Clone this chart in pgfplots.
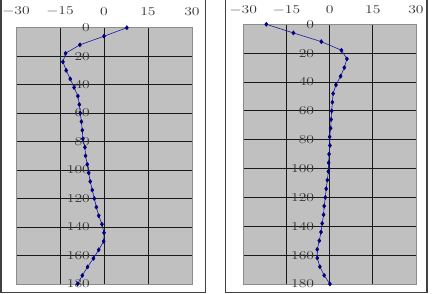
\documentclass[border=0pt]{standalone}
\usepackage{pgfplots}
\pgfplotsset{compat=1.18}
\definecolor{plotgray}{HTML}{C0C0C0}
\definecolor{navyline}{HTML}{1A1A99}
\definecolor{navymark}{HTML}{000080}
\pgfplotstableread{
x y
7.8 0
0 6
-8.2 12
-13.1 18
-14 24
-12.9 30
-11.5 36
-10.2 42
-8.9 48
-8.4 54
-8.1 60
-7.7 66
-7.4 72
-7.2 78
-6.5 84
-6.3 90
-5.7 96
-5.2 102
-4.7 108
-4.0 114
-3.3 120
-2.6 126
-1.8 132
-0.7 138
0 144
-0.1 150
-1.8 156
-3.6 162
-5.6 168
-7.4 174
-9.0 180
}\leftdata
\pgfplotstableread{
x y
-22 0
-12.6 6
-2.9 12
4.1 18
6.0 24
5.1 30
3.8 36
2.2 42
1.2 48
0.95 54
0.7 60
0.5 66
0.35 72
0 78
0.1 84
-0.2 90
-0.35 96
-0.45 102
-0.8 108
-1.2 114
-1.5 120
-1.9 126
-2.1 132
-2.6 138
-3.0 144
-3.6 150
-4.3 156
-4.3 162
-3.4 168
-1.9 174
0.1 180
}\rightdata
\pgfplotsset{
  panel/.style={
    scale only axis,
    anchor=south west,
    xmin=-30, xmax=30, ymin=0, ymax=180,
    y dir=reverse,
    xtick={-30,-15,0,15,30},
    ytick={0,20,...,180},
    xticklabel pos=upper,
    grid=major,
    major grid style={black!90, line width=0.75pt},
    axis background/.style={fill=plotgray},
    axis line style={black!45, line width=0.8pt},
    tick style={draw=none},
    xticklabel={\scalebox{1.3}[1]{\pgfmathprintnumber{\tick}}},
    yticklabel={\scalebox{1.3}[1]{\pgfmathprintnumber{\tick}}},
    tick label style={font=\fontsize{12.5}{14}\selectfont, text=black!80},
    xticklabel style={anchor=center, inner sep=0pt},
    yticklabel style={anchor=east, inner sep=0pt},
    clip=false,
  },
  series/.style={color=navyline, line width=0.6pt, mark=diamond*, mark size=2pt,
    mark options={draw=navymark, fill=navymark, solid}},
}
\begin{document}
\begin{tikzpicture}
\useasboundingbox (0pt,0pt) rectangle (432pt,294pt);
\begin{axis}[panel, at={(16pt,10pt)}, width=176pt, height=256.3pt,
  xticklabel style={yshift=16.5pt}, yticklabel style={xshift=74pt}]
\addplot[series] table[x=x,y=y] {\leftdata};
\end{axis}
\begin{axis}[panel, at={(243.3pt,10pt)}, width=172.7pt, height=259.7pt,
  xticklabel style={yshift=14.6pt}, yticklabel style={xshift=71pt}]
\addplot[series] table[x=x,y=y] {\rightdata};
\end{axis}
\draw[black!75, line width=1.2pt] (1pt,294pt) -- (1pt,1.3pt) -- (205.7pt,1.3pt) -- (205.7pt,294pt);
\draw[black!75, line width=1.2pt] (225.7pt,294pt) -- (225.7pt,1.3pt) -- (427pt,1.3pt) -- (427pt,294pt);
\end{tikzpicture}
\end{document}
